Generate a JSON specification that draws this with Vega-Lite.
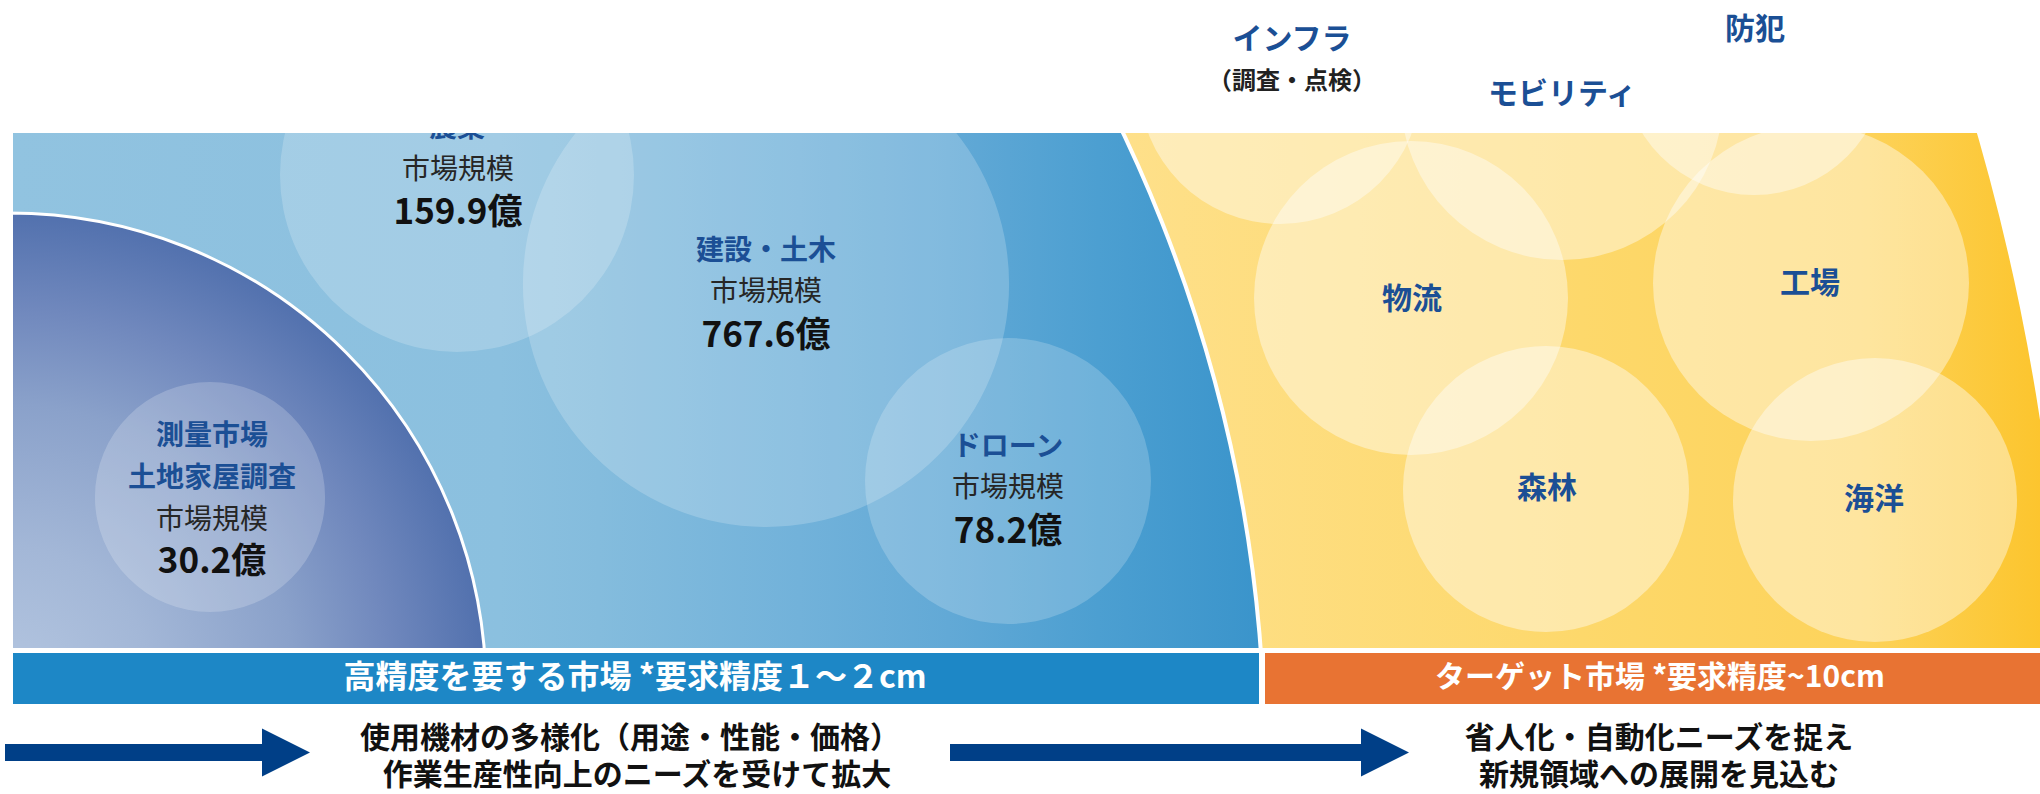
{
  "$schema": "https://vega.github.io/schema/vega-lite/v6.json",
  "width": 2040,
  "height": 794,
  "autosize": {"type": "none"},
  "padding": 0,
  "background": "#ffffff",
  "config": {"view": {"stroke": null}},
  "encoding": {
    "x": {"field": "x", "type": "quantitative", "scale": {"domain": [0, 2040], "nice": false, "zero": false}, "axis": null},
    "y": {"field": "y", "type": "quantitative", "scale": {"domain": [0, 794], "nice": false, "zero": false, "reverse": true}, "axis": null}
  },
  "layer": [
    {
      "data": {"values": [{"x": -200, "y": 762, "r": 2266, "r2": 1400}]},
      "mark": {"type": "arc", "theta": 0.9, "theta2": 1.65,
        "fill": {"gradient": "linear", "x1": 0.194, "y1": 0, "x2": 0.978, "y2": 0,
          "stops": [{"offset": 0, "color": "#fee08a"}, {"offset": 0.5, "color": "#fdd86b"}, {"offset": 0.8, "color": "#fdd35b"}, {"offset": 1, "color": "#fcc52e"}]}},
      "encoding": {
        "radius": {"field": "r", "type": "quantitative", "stack": null, "scale": {"type": "linear", "domain": [0, 1000], "range": [0, 1000], "zero": true}},
        "radius2": {"field": "r2"}
      }
    },
    {
      "data": {"values": [
        {"x": 1280, "y": 83, "r": 141},
        {"x": 1562, "y": 99, "r": 161},
        {"x": 1754, "y": 63, "r": 132},
        {"x": 1411, "y": 298, "r": 157},
        {"x": 1811, "y": 283, "r": 158},
        {"x": 1546, "y": 489, "r": 143},
        {"x": 1875, "y": 500, "r": 142}
      ]},
      "mark": {"type": "arc", "theta": 0, "theta2": 6.2832, "fill": "#ffffff", "fillOpacity": 0.42},
      "encoding": {"radius": {"field": "r", "type": "quantitative", "stack": null}}
    },
    {
      "data": {"values": [{"x": -200, "y": 762, "r": 1465}]},
      "mark": {"type": "arc", "theta": 0, "theta2": 1.5708, "stroke": "#ffffff", "strokeWidth": 4,
        "fill": {"gradient": "linear", "x1": 0.145, "y1": 0, "x2": 0.997, "y2": 0,
          "stops": [{"offset": 0, "color": "#91c3e0"}, {"offset": 0.39, "color": "#8bc0df"}, {"offset": 0.47, "color": "#84bcdd"}, {"offset": 0.63, "color": "#72b2da"}, {"offset": 0.75, "color": "#62a9d6"}, {"offset": 0.87, "color": "#4c9fd1"}, {"offset": 1, "color": "#3a94cb"}]}},
      "encoding": {"radius": {"field": "r", "type": "quantitative", "stack": null}}
    },
    {
      "data": {"values": [{"x": 9, "y": 690, "r": 477}]},
      "mark": {"type": "arc", "theta": 0, "theta2": 1.5708, "stroke": "#ffffff", "strokeWidth": 3,
        "fill": {"gradient": "radial", "x1": 0, "y1": 1, "r1": 0, "x2": 0, "y2": 1, "r2": 1,
          "stops": [{"offset": 0, "color": "#b4c6e0"}, {"offset": 0.3, "color": "#a3b7d7"}, {"offset": 0.6, "color": "#8aa1ca"}, {"offset": 0.8, "color": "#7088bd"}, {"offset": 1, "color": "#5271ae"}]}},
      "encoding": {"radius": {"field": "r", "type": "quantitative", "stack": null}}
    },
    {
      "data": {"values": [
        {"x": 457, "y": 175, "r": 177},
        {"x": 766, "y": 284, "r": 243},
        {"x": 1008, "y": 481, "r": 143},
        {"x": 210, "y": 497, "r": 115}
      ]},
      "mark": {"type": "arc", "theta": 0, "theta2": 6.2832, "fill": "#ffffff", "fillOpacity": 0.2},
      "encoding": {"radius": {"field": "r", "type": "quantitative", "stack": null}}
    },
    {
      "data": {"values": [{"x": 457, "y": 129, "label": "農業"}]},
      "mark": {"type": "text", "align": "center", "baseline": "middle", "font": "Noto Sans CJK JP", "fontWeight": "bold", "fontSize": 28, "color": "#1b4f95"},
      "encoding": {"text": {"field": "label"}}
    },
    {
      "data": {"values": [
        {"x": 0, "x2": 2040, "y": 0, "y2": 133},
        {"x": 0, "x2": 13, "y": 133, "y2": 648},
        {"x": 0, "x2": 2040, "y": 648, "y2": 794}
      ]},
      "mark": {"type": "rect", "color": "#ffffff"},
      "encoding": {"x2": {"field": "x2"}, "y2": {"field": "y2"}}
    },
    {
      "data": {"values": [
        {"x": 13, "x2": 1259, "y": 653, "y2": 704, "c": "blue"},
        {"x": 1265, "x2": 2040, "y": 653, "y2": 704, "c": "orange"}
      ]},
      "mark": {"type": "rect"},
      "encoding": {
        "x2": {"field": "x2"}, "y2": {"field": "y2"},
        "color": {"field": "c", "type": "nominal", "scale": {"domain": ["blue", "orange"], "range": ["#1d87c6", "#e87333"]}, "legend": null}
      }
    },
    {
      "data": {"values": [
        {"x": 5, "x2": 265, "y": 744, "y2": 761},
        {"x": 950, "x2": 1364, "y": 744, "y2": 761}
      ]},
      "mark": {"type": "rect", "color": "#003f87"},
      "encoding": {"x2": {"field": "x2"}, "y2": {"field": "y2"}}
    },
    {
      "data": {"values": [{"x": 286, "y": 752.5}, {"x": 1385, "y": 752.5}]},
      "mark": {"type": "point", "shape": "M-1,-1L1,0L-1,1Z", "size": 2304, "filled": true, "color": "#003f87", "opacity": 1}
    },
    {
      "data": {"values": [
        {"x": 766, "y": 252, "label": "建設・土木"},
        {"x": 1008, "y": 448, "label": "ドローン"},
        {"x": 212, "y": 437, "label": "測量市場"},
        {"x": 212, "y": 479, "label": "土地家屋調査"}
      ]},
      "mark": {"type": "text", "align": "center", "baseline": "middle", "font": "Noto Sans CJK JP", "fontWeight": "bold", "fontSize": 28, "color": "#1b4f95"},
      "encoding": {"text": {"field": "label"}}
    },
    {
      "data": {"values": [
        {"x": 458, "y": 171, "label": "市場規模"},
        {"x": 766, "y": 293, "label": "市場規模"},
        {"x": 1008, "y": 489, "label": "市場規模"},
        {"x": 212, "y": 521, "label": "市場規模"}
      ]},
      "mark": {"type": "text", "align": "center", "baseline": "middle", "font": "Noto Sans CJK JP", "fontWeight": "normal", "fontSize": 28, "color": "#262626"},
      "encoding": {"text": {"field": "label"}}
    },
    {
      "data": {"values": [
        {"x": 458, "y": 213, "label": "159.9億"},
        {"x": 766, "y": 336, "label": "767.6億"},
        {"x": 1008, "y": 532, "label": "78.2億"},
        {"x": 212, "y": 562, "label": "30.2億"}
      ]},
      "mark": {"type": "text", "align": "center", "baseline": "middle", "font": "Liberation Sans Narrow, Noto Sans CJK JP", "fontWeight": "bold", "fontSize": 35, "color": "#111111"},
      "encoding": {"text": {"field": "label"}}
    },
    {
      "data": {"values": [
        {"x": 1412, "y": 300, "label": "物流"},
        {"x": 1810, "y": 284, "label": "工場"},
        {"x": 1547, "y": 489, "label": "森林"},
        {"x": 1874, "y": 500, "label": "海洋"},
        {"x": 1292, "y": 40, "label": "インフラ"},
        {"x": 1562, "y": 95, "label": "モビリティ"},
        {"x": 1755, "y": 30, "label": "防犯"}
      ]},
      "mark": {"type": "text", "align": "center", "baseline": "middle", "font": "Noto Sans CJK JP", "fontWeight": "bold", "fontSize": 30, "color": "#1b4f95"},
      "encoding": {"text": {"field": "label"}}
    },
    {
      "data": {"values": [{"x": 1292, "y": 82, "label": "（調査・点検）"}]},
      "mark": {"type": "text", "align": "center", "baseline": "middle", "font": "Noto Sans CJK JP", "fontWeight": "bold", "fontSize": 24, "color": "#222222"},
      "encoding": {"text": {"field": "label"}}
    },
    {
      "data": {"values": [
        {"x": 635, "y": 678, "label": "高精度を要する市場 *要求精度１～２cm"}
      ]},
      "mark": {"type": "text", "align": "center", "baseline": "middle", "font": "Noto Sans CJK JP", "fontWeight": "bold", "fontSize": 32, "color": "#ffffff"},
      "encoding": {"text": {"field": "label"}}
    },
    {
      "data": {"values": [
        {"x": 1660, "y": 678, "label": "ターゲット市場 *要求精度~10cm"}
      ]},
      "mark": {"type": "text", "align": "center", "baseline": "middle", "font": "Noto Sans CJK JP", "fontWeight": "bold", "fontSize": 30, "color": "#ffffff"},
      "encoding": {"text": {"field": "label"}}
    },
    {
      "data": {"values": [
        {"x": 630, "y": 739, "label": "使用機材の多様化（用途・性能・価格）"},
        {"x": 637, "y": 776, "label": "作業生産性向上のニーズを受けて拡大"},
        {"x": 1659, "y": 739, "label": "省人化・自動化ニーズを捉え"},
        {"x": 1659, "y": 776, "label": "新規領域への展開を見込む"}
      ]},
      "mark": {"type": "text", "align": "center", "baseline": "middle", "font": "Noto Sans CJK JP", "fontWeight": "bold", "fontSize": 30, "color": "#111111"},
      "encoding": {"text": {"field": "label"}}
    }
  ]
}
